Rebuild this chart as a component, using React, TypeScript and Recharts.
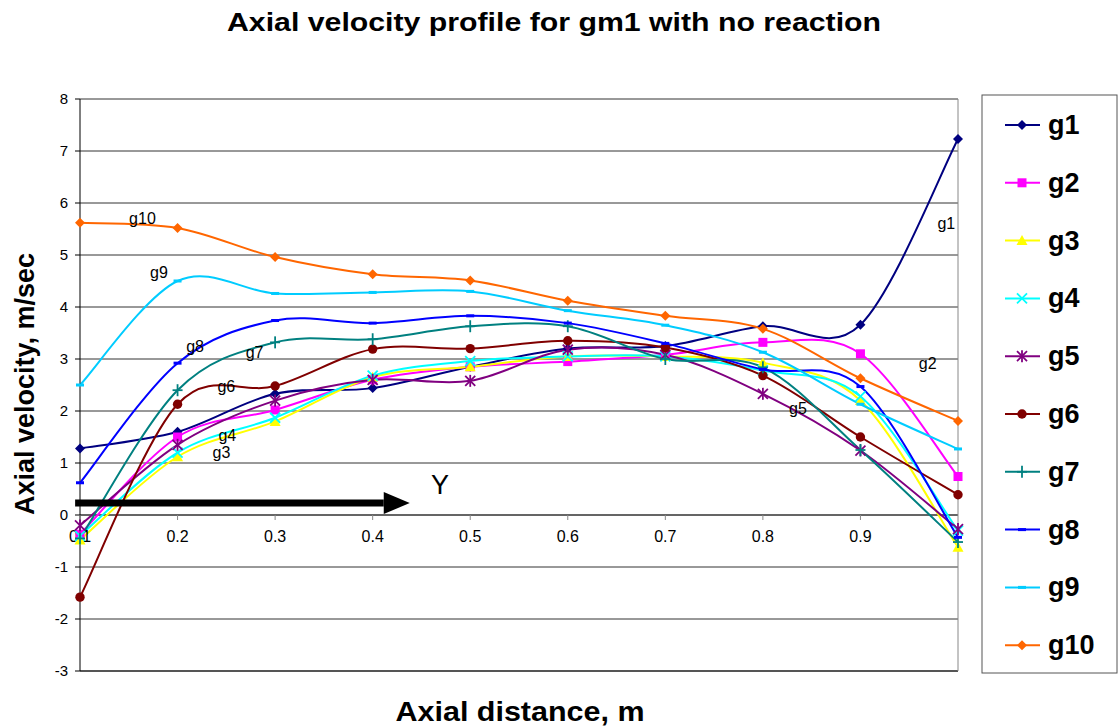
import React from "react";
import { CartesianGrid, Line, LineChart, ReferenceDot, ReferenceLine, XAxis, YAxis } from "recharts";

const positions = [0.1, 0.2, 0.3, 0.4, 0.5, 0.6, 0.7, 0.8, 0.9, 1.0];

const g1 = [1.28, 1.6, 2.33, 2.44, 2.85, 3.2, 3.25, 3.63, 3.66, 7.23];
const g2 = [-0.37, 1.5, 2.02, 2.6, 2.85, 2.95, 3.08, 3.32, 3.1, 0.74];
const g3 = [-0.48, 1.12, 1.8, 2.65, 2.85, 3.05, 3.05, 2.93, 2.2, -0.62];
const g4 = [-0.4, 1.2, 1.87, 2.68, 2.96, 3.05, 3.05, 2.78, 2.28, -0.3];
const g5 = [-0.2, 1.35, 2.2, 2.6, 2.58, 3.18, 3.08, 2.33, 1.24, -0.27];
const g6 = [-1.58, 2.13, 2.48, 3.19, 3.2, 3.35, 3.22, 2.68, 1.5, 0.39];
const g7 = [-0.45, 2.4, 3.32, 3.38, 3.63, 3.63, 3.0, 2.84, 1.25, -0.52];
const g8 = [0.62, 2.92, 3.74, 3.69, 3.83, 3.69, 3.3, 2.8, 2.47, -0.43];
const g9 = [2.5, 4.5, 4.26, 4.28, 4.3, 3.93, 3.65, 3.13, 2.13, 1.27];
const g10 = [5.62, 5.52, 4.96, 4.63, 4.51, 4.12, 3.83, 3.58, 2.63, 1.81];

const seriesNames = ["g1", "g2", "g3", "g4", "g5", "g6", "g7", "g8", "g9", "g10"];
const seriesValues = [g1, g2, g3, g4, g5, g6, g7, g8, g9, g10];
const seriesColors = ["#000080", "#FF00FF", "#FFFF00", "#00FFFF", "#800080", "#800000", "#008080", "#0000FF", "#00CCFF", "#FF6600"];
const seriesShapes = ["diamond", "square", "triangle", "cross", "star", "circle", "plus", "dash", "dash", "diamond"];

const yTicks = [-3, -2, -1, 0, 1, 2, 3, 4, 5, 6, 7, 8];
const xTickValues = [0.1, 0.2, 0.3, 0.4, 0.5, 0.6, 0.7, 0.8, 0.9];
const xTickLabels = ["0.1", "0.2", "0.3", "0.4", "0.5", "0.6", "0.7", "0.8", "0.9"];

// text boxes Excel left on the plot
const noteNames = ["g10", "g9", "g8", "g7", "g6", "g4", "g3", "g1", "g2", "g5"];
const noteX = [0.164, 0.181, 0.218, 0.279, 0.25, 0.251, 0.245, 0.988, 0.969, 0.836];
const noteY = [5.71, 4.67, 3.25, 3.13, 2.48, 1.52, 1.21, 5.6, 2.92, 2.04];

const FONT = "'Liberation Sans', Arial, sans-serif";

const rows = positions.map((x, i) => {
  const row: Record<string, number> = { x };
  seriesNames.forEach((name, s) => {
    row[name] = seriesValues[s][i];
  });
  return row;
});

// Excel style smoothed line (Catmull-Rom through the points)
function excelSmooth(context: any) {
  let pts: number[][] = [];
  return {
    areaStart() {},
    areaEnd() {},
    lineStart() {
      pts = [];
    },
    point(x: number, y: number) {
      pts.push([+x, +y]);
    },
    lineEnd() {
      if (!pts.length) return;
      context.moveTo(pts[0][0], pts[0][1]);
      for (let i = 0; i < pts.length - 1; i++) {
        const p0 = pts[i - 1] || pts[i];
        const p1 = pts[i];
        const p2 = pts[i + 1];
        const p3 = pts[i + 2] || p2;
        context.bezierCurveTo(
          p1[0] + (p2[0] - p0[0]) / 6,
          p1[1] + (p2[1] - p0[1]) / 6,
          p2[0] - (p3[0] - p1[0]) / 6,
          p2[1] - (p3[1] - p1[1]) / 6,
          p2[0],
          p2[1]
        );
      }
    },
  };
}

function Marker({ shape, cx, cy, color }: { shape: string; cx: number; cy: number; color: string }) {
  switch (shape) {
    case "diamond":
      return <polygon points={`${cx},${cy - 5} ${cx + 5},${cy} ${cx},${cy + 5} ${cx - 5},${cy}`} fill={color} />;
    case "square":
      return <rect x={cx - 4.5} y={cy - 4.5} width={9} height={9} fill={color} />;
    case "triangle":
      return <polygon points={`${cx},${cy - 5.5} ${cx + 5.5},${cy + 4.5} ${cx - 5.5},${cy + 4.5}`} fill={color} />;
    case "cross":
      return (
        <g stroke={color} strokeWidth={1.8}>
          <line x1={cx - 5} y1={cy - 5} x2={cx + 5} y2={cy + 5} />
          <line x1={cx - 5} y1={cy + 5} x2={cx + 5} y2={cy - 5} />
        </g>
      );
    case "star":
      return (
        <g stroke={color} strokeWidth={1.8}>
          <line x1={cx - 5} y1={cy - 5} x2={cx + 5} y2={cy + 5} />
          <line x1={cx - 5} y1={cy + 5} x2={cx + 5} y2={cy - 5} />
          <line x1={cx} y1={cy - 6} x2={cx} y2={cy + 6} />
        </g>
      );
    case "circle":
      return <circle cx={cx} cy={cy} r={4.7} fill={color} />;
    case "plus":
      return (
        <g stroke={color} strokeWidth={1.8}>
          <line x1={cx} y1={cy - 6} x2={cx} y2={cy + 6} />
          <line x1={cx - 5} y1={cy} x2={cx + 5} y2={cy} />
        </g>
      );
    default:
      return <rect x={cx - 4} y={cy - 1.5} width={8} height={3} fill={color} />;
  }
}

function Arrow(props: any) {
  const { x1, y1, x2 } = props;
  const head = 26;
  return (
    <g>
      <line x1={x1} y1={y1} x2={x2 - head} y2={y1} stroke="#000" strokeWidth={7} />
      <polygon points={`${x2 - head},${y1 - 11} ${x2},${y1} ${x2 - head},${y1 + 11}`} fill="#000" />
    </g>
  );
}

export default function App() {
  return (
    <div style={{ position: "absolute", left: 0, top: 0, width: 1120, height: 727, background: "#fff", fontFamily: FONT }}>
      <LineChart width={1120} height={727} data={rows} margin={{ top: 99, right: 162, bottom: 56, left: 20 }}>
        <CartesianGrid vertical={false} stroke="#333" horizontalValues={yTicks} />
        <XAxis dataKey="x" type="number" domain={[0.1, 1.0]} hide height={0} />
        <YAxis
          type="number"
          domain={[-3, 8]}
          ticks={yTicks}
          interval={0}
          width={60}
          tickSize={5}
          tickMargin={7}
          axisLine={{ stroke: "#000" }}
          tickLine={{ stroke: "#000" }}
          tick={{ fontSize: 15, fill: "#000", fontFamily: FONT }}
        />
        <ReferenceLine y={-3} stroke="#555" strokeWidth={2} />
        <ReferenceLine y={0} stroke="#333" />
        <ReferenceLine x={1.0} stroke="#888" />
        {xTickValues.map((t, i) => (
          <ReferenceDot
            key={`xt-${i}`}
            x={t}
            y={0}
            r={0}
            shape={(p: any) => (
              <g>
                <line x1={p.cx} y1={p.cy} x2={p.cx} y2={p.cy + 5} stroke="#888" />
                <text x={p.cx} y={p.cy + 27} textAnchor="middle" fontSize={16} fontFamily={FONT} fill="#000">
                  {xTickLabels[i]}
                </text>
              </g>
            )}
          />
        ))}
        {seriesNames.map((name, s) => (
          <Line
            key={name}
            dataKey={name}
            type={excelSmooth as any}
            stroke={seriesColors[s]}
            strokeWidth={2}
            isAnimationActive={false}
            activeDot={false}
            dot={(p: any) => (
              <Marker key={`${name}-${p.index}`} shape={seriesShapes[s]} cx={p.cx} cy={p.cy} color={seriesColors[s]} />
            )}
          />
        ))}
        {noteNames.map((n, i) => (
          <ReferenceDot
            key={`note-${n}`}
            x={noteX[i]}
            y={noteY[i]}
            r={0}
            shape={(p: any) => (
              <text x={p.cx} y={p.cy} textAnchor="middle" dominantBaseline="central" fontSize={16} fontFamily={FONT} fill="#000">
                {n}
              </text>
            )}
          />
        ))}
        <ReferenceLine
          segment={[
            { x: 0.095, y: 0.23 },
            { x: 0.438, y: 0.23 },
          ]}
          ifOverflow="visible"
          shape={Arrow}
        />
        <ReferenceDot
          x={0.469}
          y={0.58}
          r={0}
          shape={(p: any) => (
            <text x={p.cx} y={p.cy} textAnchor="middle" dominantBaseline="central" fontSize={27} fontFamily={FONT} fill="#000">
              Y
            </text>
          )}
        />
      </LineChart>

      <svg width={1120} height={727} style={{ position: "absolute", left: 0, top: 0, pointerEvents: "none" }}>
        <text x={554} y={22} textAnchor="middle" dominantBaseline="central" fontSize={26} fontWeight="bold" fontFamily={FONT} textLength={654} lengthAdjust="spacingAndGlyphs">
          Axial velocity profile for gm1 with no reaction
        </text>
        <text x={520} y={712} textAnchor="middle" dominantBaseline="central" fontSize={27} fontWeight="bold" fontFamily={FONT} textLength={249} lengthAdjust="spacingAndGlyphs">
          Axial distance, m
        </text>
        <text
          x={25}
          y={384}
          textAnchor="middle"
          dominantBaseline="central"
          fontSize={27}
          fontWeight="bold"
          fontFamily={FONT}
          transform="rotate(-90 25 384)"
        >
          Axial velocity, m/sec
        </text>

        <rect x={982} y={95} width={135} height={578} fill="#fff" stroke="#555" />
        {seriesNames.map((name, s) => {
          const cy = 125 + s * 57.8;
          return (
            <g key={`lg-${name}`}>
              <line x1={1005} y1={cy} x2={1040} y2={cy} stroke={seriesColors[s]} strokeWidth={2} />
              <Marker shape={seriesShapes[s]} cx={1022} cy={cy} color={seriesColors[s]} />
              <text x={1048} y={cy} dominantBaseline="central" fontSize={27} fontWeight="bold" fontFamily={FONT} fill="#000">
                {name}
              </text>
            </g>
          );
        })}
      </svg>
    </div>
  );
}
